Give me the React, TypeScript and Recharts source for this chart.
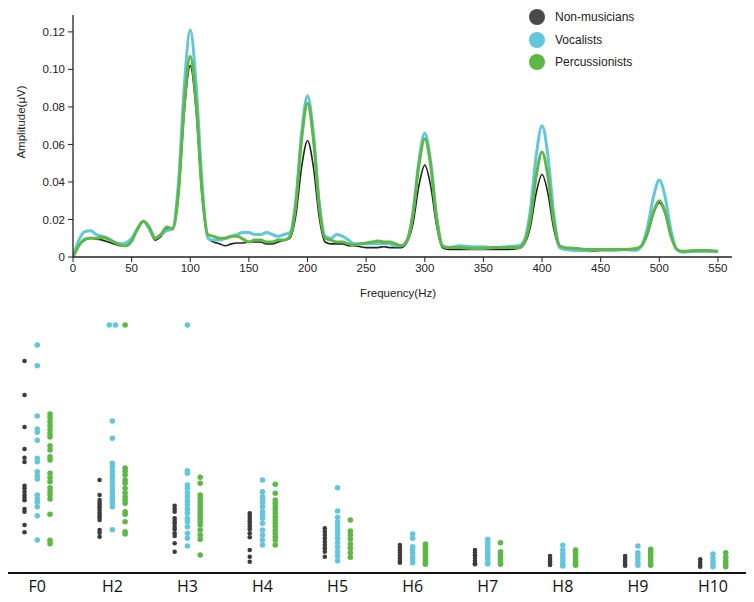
import React from "react";
import {
  LineChart,
  Line,
  XAxis,
  YAxis,
  ScatterChart,
  Scatter,
} from "recharts";

// spectrum (top panel)
const FREQS = [
  0, 5, 10, 15, 20, 25, 30, 35, 40, 45, 50, 55, 60, 65, 70, 75, 80, 85, 90, 95,
  100, 105, 110, 115, 120, 125, 130, 135, 140, 145, 150, 155, 160, 165, 170, 175,
  180, 185, 190, 195, 200, 205, 210, 215, 220, 225, 230, 235, 240, 245, 250, 255,
  260, 265, 270, 275, 280, 285, 290, 295, 300, 305, 310, 315, 320, 330, 340, 350,
  360, 370, 380, 385, 390, 395, 400, 405, 410, 415, 420, 430, 440, 450, 460, 470,
  480, 485, 490, 495, 500, 505, 510, 515, 520, 530, 540, 550,
];

const NON_SPECTRUM = [
  0, 0.006, 0.009, 0.01, 0.0095, 0.009, 0.008, 0.007, 0.006, 0.006, 0.009, 0.015,
  0.019, 0.015, 0.009, 0.011, 0.015, 0.015, 0.033, 0.078, 0.102, 0.078, 0.033,
  0.01, 0.008, 0.007, 0.006, 0.007, 0.0075, 0.0075, 0.008, 0.008, 0.008, 0.007,
  0.007, 0.008, 0.009, 0.01, 0.022, 0.048, 0.062, 0.048, 0.021, 0.008, 0.007,
  0.007, 0.007, 0.006, 0.006, 0.0055, 0.005, 0.005, 0.005, 0.0055, 0.005, 0.005,
  0.005, 0.008, 0.018, 0.038, 0.049, 0.038, 0.017, 0.005, 0.004, 0.004, 0.004,
  0.004, 0.004, 0.004, 0.0045, 0.007, 0.016, 0.034, 0.044, 0.034, 0.015, 0.005,
  0.004, 0.0035, 0.003, 0.0035, 0.0035, 0.004, 0.004, 0.006, 0.012, 0.023,
  0.029, 0.023, 0.011, 0.004, 0.003, 0.003, 0.003, 0.003,
];

const VOC_SPECTRUM = [
  0, 0.009, 0.0135, 0.014, 0.012, 0.011, 0.01, 0.008, 0.007, 0.0075, 0.01,
  0.015, 0.019, 0.015, 0.01, 0.012, 0.014, 0.015, 0.04, 0.092, 0.121, 0.092,
  0.04, 0.01, 0.009, 0.009, 0.01, 0.011, 0.012, 0.013, 0.013, 0.012, 0.012,
  0.013, 0.012, 0.011, 0.012, 0.013, 0.03, 0.066, 0.086, 0.066, 0.029, 0.011,
  0.01, 0.012, 0.011, 0.009, 0.007, 0.007, 0.007, 0.007, 0.007, 0.007, 0.007,
  0.006, 0.006, 0.009, 0.024, 0.051, 0.066, 0.051, 0.022, 0.006, 0.005, 0.006,
  0.0055, 0.0055, 0.005, 0.0055, 0.006, 0.009, 0.025, 0.054, 0.07, 0.054, 0.023,
  0.005, 0.004, 0.0035, 0.0035, 0.004, 0.0035, 0.004, 0.0035, 0.006, 0.016,
  0.032, 0.041, 0.032, 0.014, 0.004, 0.0025, 0.003, 0.003, 0.003,
];

const PERC_SPECTRUM = [
  0, 0.006, 0.0095, 0.01, 0.01, 0.0105, 0.0095, 0.008, 0.0065, 0.006, 0.0085,
  0.015, 0.019, 0.016, 0.01, 0.012, 0.016, 0.015, 0.035, 0.082, 0.107, 0.082,
  0.035, 0.012, 0.011, 0.01, 0.01, 0.011, 0.011, 0.0095, 0.008, 0.009, 0.009,
  0.008, 0.008, 0.009, 0.009, 0.011, 0.028, 0.063, 0.082, 0.063, 0.027, 0.01,
  0.009, 0.008, 0.008, 0.007, 0.0065, 0.007, 0.0075, 0.008, 0.0085, 0.008,
  0.008, 0.007, 0.006, 0.009, 0.023, 0.049, 0.063, 0.049, 0.021, 0.006, 0.005,
  0.005, 0.0045, 0.0045, 0.005, 0.005, 0.005, 0.008, 0.02, 0.043, 0.056, 0.043,
  0.019, 0.006, 0.005, 0.0045, 0.004, 0.004, 0.004, 0.004, 0.0045, 0.006, 0.013,
  0.024, 0.03, 0.024, 0.011, 0.004, 0.003, 0.0035, 0.0035, 0.003,
];

const FREQ_TICKS = [0, 50, 100, 150, 200, 250, 300, 350, 400, 450, 500, 550];
const AMP_TICKS = [0, 0.02, 0.04, 0.06, 0.08, 0.1, 0.12];

// per-harmonic dots (bottom panel)
const HARMONICS = ["F0", "H2", "H3", "H4", "H5", "H6", "H7", "H8", "H9", "H10"];

const NON_DOTS = [
  [84.8, 71.2, 58.4, 49.6, 46.1, 44.4, 34.9, 33.9, 32.5, 31.2, 30.1, 29.1, 25.6, 24.5, 19.2, 16.3],
  [37.2, 31.2, 29.2, 28.1, 27.2, 26.3, 25.2, 24.1, 23.2, 22.3, 21.2, 17.2, 16.1, 14.5],
  [26.9, 25.6, 24.5, 21.9, 20.8, 19.9, 18.5, 17.5, 15.9, 14.8, 11.9, 8.5],
  [23.9, 22.8, 21.7, 20.7, 19.6, 18.5, 17.5, 15.9, 14.3, 9.2, 6.5, 4.5],
  [17.9, 16.5, 15.2, 13.9, 12.5, 11.2, 9.9, 8.5, 6.5],
  [11.2, 10.1, 9.1, 8.0, 6.9, 5.9, 4.8, 4.1],
  [9.2, 8.1, 7.1, 6.0, 4.9, 3.9, 3.5],
  [6.8, 5.7, 4.7, 3.6, 3.2],
  [6.8, 5.7, 4.7, 3.6, 2.9],
  [5.5, 4.4, 3.3, 2.5],
];

const VOC_DOTS = [
  [91.2, 82.9, 62.8, 57.6, 56.3, 53.1, 45.9, 44.5, 40.5, 38.9, 37.6, 31.2, 29.6, 28.3, 26.5, 22.9, 13.2],
  [99.2, 99.2, 60.8, 53.9, 43.9, 42.5, 40.8, 39.2, 37.9, 36.5, 34.9, 33.2, 31.9, 30.5, 29.2, 27.9, 26.5, 17.3],
  [99.2, 40.9, 39.9, 35.2, 33.9, 32.1, 30.5, 28.8, 27.2, 25.5, 23.9, 21.9, 20.5, 18.5, 15.9, 13.9, 10.8],
  [37.2, 32.5, 30.5, 29.2, 27.9, 26.5, 24.5, 23.2, 21.9, 19.9, 17.2, 15.2, 13.2, 11.2],
  [34.1, 24.8, 22.3, 20.5, 18.8, 17.2, 15.6, 13.9, 12.1, 10.3, 8.5, 6.8, 4.9],
  [15.6, 13.9, 10.5, 9.2, 7.9, 6.5, 5.2, 4.1],
  [13.5, 12.1, 10.8, 9.5, 8.1, 6.8, 5.5, 4.1, 3.6],
  [11.1, 9.2, 7.6, 6.3, 4.9, 3.6, 2.8],
  [10.8, 8.1, 6.8, 5.5, 4.1, 3.1],
  [7.6, 5.9, 4.5, 3.2, 2.5],
];

const PERC_DOTS = [
  [63.6, 62.1, 60.5, 58.9, 57.3, 55.7, 54.4, 50.9, 49.2, 46.5, 45.2, 39.9, 38.1, 36.5, 34.1, 32.5, 31.2, 29.6, 23.5, 13.1, 11.7],
  [99.2, 42.0, 40.7, 39.2, 37.2, 35.9, 33.9, 32.1, 30.5, 29.2, 27.9, 24.5, 23.5, 20.5, 16.5, 15.6],
  [38.3, 35.9, 31.2, 29.9, 28.5, 27.2, 25.9, 24.5, 23.2, 21.9, 20.5, 19.2, 17.2, 15.2, 13.5, 7.2],
  [35.5, 31.9, 29.2, 27.9, 26.5, 25.2, 23.9, 22.5, 21.2, 19.9, 18.5, 17.2, 15.9, 14.5, 13.2, 11.2],
  [21.2, 16.8, 15.2, 13.6, 11.6, 9.9, 8.1, 6.3],
  [11.6, 10.5, 9.5, 8.4, 7.3, 6.3, 5.2, 4.1, 3.5],
  [12.1, 8.5, 7.5, 6.4, 5.3, 4.3, 3.5],
  [9.2, 8.1, 7.1, 6.0, 4.9, 3.9, 3.1],
  [9.5, 8.4, 7.3, 6.3, 5.2, 4.1, 3.1],
  [8.1, 6.3, 4.9, 3.6, 2.5],
];

const DARK = "#3c3c3c";
const BLUE = "#63c7db";
const GREEN = "#5db846";
const FONT = "'Liberation Sans', Arial, sans-serif";

const GROUPS = [
  { key: "non", name: "Non-musicians", line: "#222222", dot: DARK, legend: "#4a4a4a", width: 1.6, r: 2.3, offset: -0.17, dots: NON_DOTS },
  { key: "voc", name: "Vocalists", line: BLUE, dot: BLUE, legend: BLUE, width: 3, r: 2.8, offset: 0, dots: VOC_DOTS },
  { key: "perc", name: "Percussionists", line: GREEN, dot: GREEN, legend: GREEN, width: 3, r: 2.8, offset: 0.17, dots: PERC_DOTS },
];

const spectrum = FREQS.map((f, i) => ({
  f,
  non: NON_SPECTRUM[i],
  voc: VOC_SPECTRUM[i],
  perc: PERC_SPECTRUM[i],
}));

// spread identical values of one column sideways so they don't sit on top of each other
function toPoints(cols: number[][], offset: number) {
  const pts: { x: number; y: number }[] = [];
  cols.forEach((vals, i) => {
    vals.forEach((v, j) => {
      const n = vals.filter((u) => u === v).length;
      const k = vals.slice(0, j).filter((u) => u === v).length;
      const jitter = n > 1 ? (k - (n - 1) / 2) * 0.08 : 0;
      pts.push({ x: i + offset + jitter, y: v });
    });
  });
  return pts;
}

function SpectrumLegend() {
  return (
    <div style={{ position: "absolute", left: 529, top: 6, fontFamily: FONT, fontSize: 12, color: "#222" }}>
      {GROUPS.map((g) => (
        <div key={g.key} style={{ display: "flex", alignItems: "center", height: 22.5 }}>
          <svg width={16} height={16} style={{ marginRight: 10 }}>
            <circle cx={8} cy={8} r={8} fill={g.legend} />
          </svg>
          <span>{g.name}</span>
        </div>
      ))}
    </div>
  );
}

export default function App() {
  const tickStyle = { fill: "#222", fontSize: 11.5, fontFamily: FONT };
  return (
    <div style={{ position: "absolute", left: 0, top: 0, width: 754, height: 602, background: "#fff" }}>
      <div style={{ position: "absolute", left: 0, top: 0 }}>
        <LineChart
          width={754}
          height={310}
          data={spectrum}
          margin={{ top: 15, right: 22, bottom: 23, left: 13 }}
        >
          <XAxis
            type="number"
            dataKey="f"
            domain={[0, 562]}
            ticks={FREQ_TICKS}
            allowDataOverflow
            height={30}
            tick={tickStyle}
            tickSize={5}
            tickMargin={2}
            axisLine={{ stroke: "#222", strokeWidth: 1.3 }}
            tickLine={{ stroke: "#222" }}
            label={() => (
              <text x={398} y={297} textAnchor="middle" fill="#222" fontSize={11.5} fontFamily={FONT}>
                Frequency(Hz)
              </text>
            )}
          />
          <YAxis
            type="number"
            domain={[0, 0.129]}
            ticks={AMP_TICKS}
            allowDataOverflow
            width={60}
            tick={tickStyle}
            tickSize={5}
            tickMargin={3}
            tickFormatter={(v: number) => (v === 0 ? "0" : v.toFixed(2))}
            axisLine={{ stroke: "#222", strokeWidth: 1.3 }}
            tickLine={{ stroke: "#222" }}
            label={() => (
              <text
                x={25}
                y={122}
                transform="rotate(-90 25 122)"
                textAnchor="middle"
                fill="#222"
                fontSize={11.5}
                fontFamily={FONT}
              >
                Amplitude(μV)
              </text>
            )}
          />
          {GROUPS.map((g) => (
            <Line
              key={g.key}
              type="monotone"
              dataKey={g.key}
              name={g.name}
              stroke={g.line}
              strokeWidth={g.width}
              dot={false}
              activeDot={false}
              isAnimationActive={false}
            />
          ))}
        </LineChart>
        <SpectrumLegend />
      </div>
      <div style={{ position: "absolute", left: 0, top: 300 }}>
        <ScatterChart width={754} height={302} margin={{ top: 23, right: 8, bottom: 0, left: 8 }}>
          <XAxis
            type="number"
            dataKey="x"
            domain={[-0.39, 9.44]}
            ticks={HARMONICS.map((_, i) => i)}
            tickFormatter={(i: number) => HARMONICS[i]}
            allowDataOverflow
            height={29}
            tickLine={false}
            tickSize={0}
            tickMargin={8}
            tick={{ fill: "#111", fontSize: 16, fontFamily: "'Open Sans', sans-serif" }}
            axisLine={{ stroke: "#111", strokeWidth: 2 }}
          />
          <YAxis type="number" dataKey="y" domain={[0, 100]} hide />
          {GROUPS.map((g) => (
            <Scatter
              key={g.key}
              name={g.name}
              data={toPoints(g.dots, g.offset)}
              isAnimationActive={false}
              shape={(p: any) => <circle cx={p.cx} cy={p.cy} r={g.r} fill={g.dot} />}
            />
          ))}
        </ScatterChart>
      </div>
    </div>
  );
}
